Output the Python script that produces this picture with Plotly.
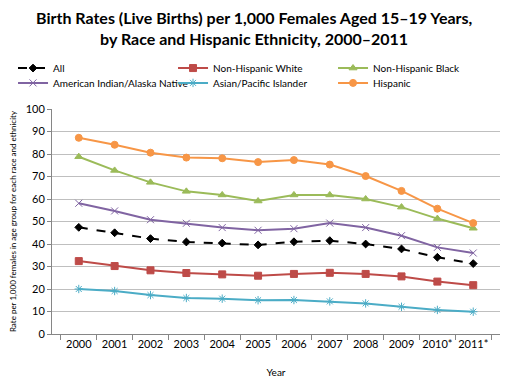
import plotly.graph_objects as go

years = ["2000", "2001", "2002", "2003", "2004", "2005", "2006", "2007", "2008", "2009", "2010*", "2011*"]
all_rates = [47.4, 45.0, 42.4, 40.9, 40.4, 39.6, 41.0, 41.5, 40.0, 37.8, 34.1, 31.3]
nh_white = [32.4, 30.2, 28.3, 27.1, 26.5, 25.9, 26.7, 27.2, 26.7, 25.6, 23.3, 21.7]
nh_black = [78.8, 72.7, 67.4, 63.4, 61.8, 59.1, 61.8, 61.8, 60.0, 56.4, 51.3, 47.0]
ai_an = [58.1, 54.7, 50.8, 49.2, 47.3, 46.1, 46.8, 49.3, 47.3, 43.7, 38.5, 36.0]
api = [20.0, 19.1, 17.3, 16.0, 15.7, 15.0, 15.1, 14.5, 13.6, 12.1, 10.7, 9.9]
hispanic = [87.2, 84.1, 80.6, 78.4, 78.1, 76.4, 77.3, 75.3, 70.2, 63.6, 55.7, 49.3]

series = [
    ("All", all_rates, "#000000", "diamond", "dash", 6, "legend"),
    ("Non-Hispanic White", nh_white, "#BE4B48", "square", "solid", 7, "legend"),
    ("Non-Hispanic Black", nh_black, "#9BBB59", "triangle-up", "solid", 7, "legend"),
    ("American Indian/Alaska Native", ai_an, "#8064A2", "x-thin", "solid", 7, "legend2"),
    ("Asian/Pacific Islander", api, "#4BACC6", "asterisk", "solid", 7, "legend2"),
    ("Hispanic", hispanic, "#F79646", "circle", "solid", 7, "legend2"),
]

fig = go.Figure()
for name, vals, color, sym, dash, ms, lg in series:
    fig.add_trace(go.Scatter(
        x=years, y=vals, name=name, mode="lines+markers", legend=lg,
        line=dict(color=color, width=2, dash=dash),
        marker=dict(symbol=sym, size=ms, color=color,
                    line=dict(color=color, width=1)),
    ))

font = "Lato, DejaVu Sans, sans-serif"
leg_common = dict(
    orientation="h", x=-0.087, xanchor="left", yanchor="middle",
    entrywidth=115, entrywidthmode="pixels",
    font=dict(size=10, family=font), itemwidth=30, bgcolor="rgba(0,0,0,0)",
)
fig.update_layout(
    width=501, height=373,
    margin=dict(l=44, r=9, t=101, b=47, autoexpand=False),
    paper_bgcolor="white", plot_bgcolor="white",
    font=dict(family=font, size=11, color="#000000"),
    legend=dict(y=1.182, **leg_common),
    legend2=dict(y=1.116, **leg_common),
    showlegend=True,
    annotations=[dict(
        text="<b>Birth Rates (Live Births) per 1,000 Females Aged 15–19 Years,<br>by Race and Hispanic Ethnicity, 2000–2011</b>",
        xref="paper", yref="paper", x=0.451, y=1.362,
        xanchor="center", yanchor="middle", showarrow=False,
        font=dict(size=16, family=font),
    )],
)
fig.update_xaxes(
    type="category", showgrid=False, showline=True, linecolor="#868686",
    ticks="outside", tickson="boundaries", ticklen=5, tickcolor="#868686",
    title=dict(text="Year", font=dict(size=10), standoff=19),
    tickfont=dict(size=11), tickangle=0,
)
fig.update_yaxes(
    range=[0, 100], dtick=10, showgrid=True, gridcolor="#BFBFBF",
    showline=True, linecolor="#868686", ticks="outside", ticklen=4,
    tickcolor="#868686", zeroline=False,
    title=dict(text="Rate per 1,000 females in age group for each race and ethnicity",
               font=dict(size=8), standoff=8),
    tickfont=dict(size=11),
)
fig.write_html("out.html")
